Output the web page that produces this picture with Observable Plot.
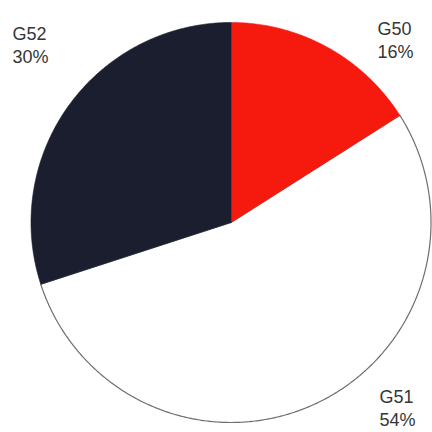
<!DOCTYPE html>
<html>
<head>
<meta charset="utf-8">
<script src="https://cdn.jsdelivr.net/npm/d3@7"></script>
<script src="https://cdn.jsdelivr.net/npm/@observablehq/plot@0.6"></script>
<style>
  html, body { margin: 0; padding: 0; background: #fff; }
  #chart { width: 432px; height: 432px; }
</style>
</head>
<body>
<div id="chart"></div>
<script>
const categories = ["G50", "G51", "G52"];
const shares = [16, 54, 30];
const colors = ["#f5190e", "#ffffff", "#1b1e2e"];

const arcs = d3.pie().sort(null)(shares);
// sample each slice as a polygon in unit coordinates (x = sin a, y = -cos a)
const pts = [];
arcs.forEach((a, i) => {
  const n = Math.max(2, Math.ceil((a.endAngle - a.startAngle) / (Math.PI / 360)));
  pts.push({cat: categories[i], x: 0, y: 0});
  for (let k = 0; k <= n; k++) {
    const t = a.startAngle + (a.endAngle - a.startAngle) * k / n;
    pts.push({cat: categories[i], x: Math.sin(t), y: -Math.cos(t)});
  }
  pts.push({cat: categories[i], x: 0, y: 0});
});

const R = 200, cx = 230.5, cy = 222, W = 432, H = 432;
const labelText = categories.map((c, i) => `${c}\n${shares[i]}%`);

const textOpts = {fill: "#363636", fontSize: 18, fontFamily: "Liberation Sans, Arial, sans-serif",
  lineHeight: 1.28, textAnchor: "start", lineAnchor: "top", frameAnchor: "top-left"};

const plot = Plot.plot({
  width: W, height: H,
  margin: 0,
  x: {domain: [-cx / R, (W - cx) / R], range: [0, W], axis: null},
  y: {domain: [-cy / R, (H - cy) / R], range: [0, H], axis: null},
  color: {domain: categories, range: colors},
  style: {background: "#fff"},
  marks: [
    Plot.line(pts.filter(d => d.cat === "G51"), {x: "x", y: "y", z: "cat", fill: "cat", stroke: "#6e6e6e", strokeWidth: 1.2, curve: "linear-closed"}),
    Plot.line(pts.filter(d => d.cat !== "G51"), {x: "x", y: "y", z: "cat", fill: "cat", stroke: "cat", strokeWidth: 0.6, curve: "linear-closed"}),
    Plot.text([labelText[2]], {...textOpts, text: d => d, dx: 12, dy: 23}),
    Plot.text([labelText[0]], {...textOpts, text: d => d, dx: 377, dy: 18}),
    Plot.text([labelText[1]], {...textOpts, text: d => d, dx: 379, dy: 386})
  ]
});
document.getElementById("chart").appendChild(plot);
</script>
</body>
</html>
